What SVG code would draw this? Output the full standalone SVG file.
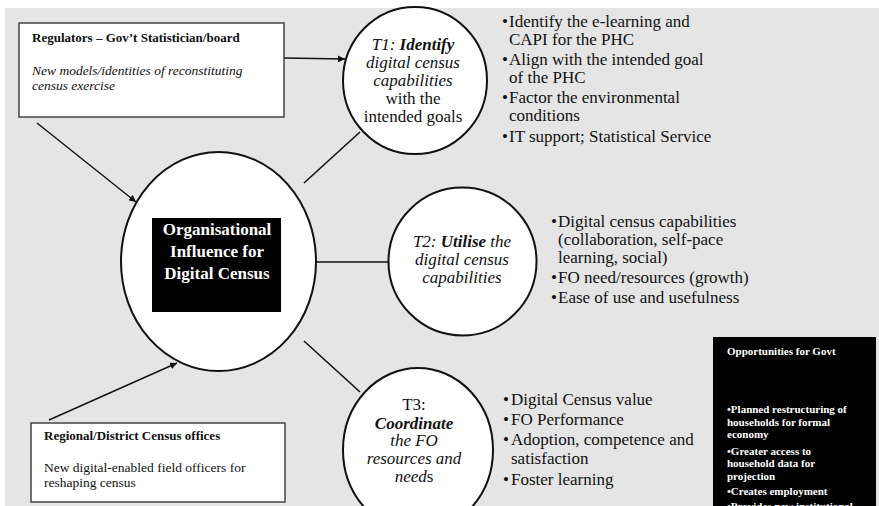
<svg xmlns="http://www.w3.org/2000/svg" width="879" height="506" viewBox="0 0 879 506" font-family="'Liberation Serif', 'Times New Roman', serif">
<style>
text{font-family:"Liberation Serif","Times New Roman",serif;fill:#111}
.t{font-size:17px}
.c{text-anchor:middle}
.i{font-style:italic}
.b{font-weight:bold}
.box{fill:#fff;stroke:#444;stroke-width:1.5}
.circ{fill:#fff;stroke:#111;stroke-width:2}
.ln{stroke:#111;stroke-width:1.6;fill:none}
.s13{font-size:13.5px}
.w{fill:#fff;font-size:11px;font-weight:bold}
</style>
<defs>
<marker id="ah" viewBox="0 0 10 10" refX="10" refY="5" markerWidth="7" markerHeight="7" orient="auto" markerUnits="userSpaceOnUse">
<path d="M0,0 L10,5 L0,10 z" fill="#111"/>
</marker>
</defs>
<rect x="0" y="0" width="879" height="506" fill="#fff"/>
<rect x="5" y="8" width="874" height="498" fill="#e5e5e5"/>

<g id="connectors">
<line class="ln" x1="284" y1="58" x2="345" y2="59" marker-end="url(#ah)" style="stroke-width:1.4"/>
<line class="ln" x1="37" y1="123" x2="136" y2="202" marker-end="url(#ah)" style="stroke-width:1.4"/>
<line class="ln" x1="49" y1="420" x2="177" y2="363" marker-end="url(#ah)" style="stroke-width:1.4"/>
<line class="ln" x1="304" y1="183" x2="360" y2="132"/>
<line class="ln" x1="316" y1="262" x2="389" y2="262"/>
<line class="ln" x1="304" y1="341" x2="360" y2="392"/>
</g>

<g id="regulators">
<rect class="box" x="19" y="23" width="265" height="94"/>
<text class="b" x="32" y="42" font-size="13">Regulators – Gov’t Statistician/board</text>
<text class="i s13" x="32" y="75">New models/identities of reconstituting</text>
<text class="i s13" x="32" y="90">census exercise</text>
</g>

<g id="regional">
<rect class="box" x="31" y="423" width="254" height="79"/>
<text class="b" x="44" y="440" font-size="13">Regional/District Census offices</text>
<text class="s13" x="44" y="472">New digital-enabled field officers for</text>
<text class="s13" x="44" y="487">reshaping census</text>
</g>

<g id="main">
<ellipse class="circ" cx="218.5" cy="261.5" rx="97.5" ry="109.5"/>
<rect x="152" y="218" width="129" height="94" fill="#000"/>
<text class="b c" x="217" y="235" font-size="17" style="fill:#fff">Organisational</text>
<text class="b c" x="217" y="257" font-size="17" style="fill:#fff">Influence for</text>
<text class="b c" x="217" y="279" font-size="17" style="fill:#fff">Digital Census</text>
</g>

<g id="t1">
<ellipse class="circ" cx="415" cy="80.5" rx="72" ry="73.5"/>
<text class="t c i" x="413" y="50">T1: <tspan class="b">Identify</tspan></text>
<text class="t c i" x="413" y="68">digital census</text>
<text class="t c i" x="413" y="86">capabilities</text>
<text class="t c" x="413" y="104">with the</text>
<text class="t c" x="413" y="122">intended goals</text>
</g>

<g id="t1-list">
<text class="t" x="502" y="27">•</text><text class="t" x="509" y="27">Identify the e-learning and</text>
<text class="t" x="509" y="45">CAPI for the PHC</text>
<text class="t" x="502" y="65">•</text><text class="t" x="509" y="65">Align with the intended goal</text>
<text class="t" x="509" y="83">of the PHC</text>
<text class="t" x="502" y="103">•</text><text class="t" x="509" y="103">Factor the environmental</text>
<text class="t" x="509" y="121">conditions</text>
<text class="t" x="502" y="142">•</text><text class="t" x="509" y="142">IT support; Statistical Service</text>
</g>

<g id="t2">
<ellipse class="circ" cx="462.5" cy="261.5" rx="74" ry="74"/>
<text class="t c i" x="462" y="247">T2: <tspan class="b">Utilise</tspan> the</text>
<text class="t c i" x="462" y="265">digital census</text>
<text class="t c i" x="462" y="283">capabilities</text>
</g>

<g id="t2-list">
<text class="t" x="551" y="227">•</text><text class="t" x="558" y="227">Digital census capabilities</text>
<text class="t" x="558" y="245">(collaboration, self-pace</text>
<text class="t" x="558" y="263">learning, social)</text>
<text class="t" x="551" y="283">•</text><text class="t" x="558" y="283">FO need/resources (growth)</text>
<text class="t" x="551" y="303">•</text><text class="t" x="558" y="303">Ease of use and usefulness</text>
</g>

<g id="t3">
<ellipse class="circ" cx="418" cy="450" rx="75" ry="82"/>
<text class="t c" x="414" y="410">T3:</text>
<text class="t c i b" x="414" y="429">Coordinate</text>
<text class="t c i" x="414" y="446">the FO</text>
<text class="t c i" x="414" y="464">resources and</text>
<text class="t c i" x="414" y="482">need<tspan font-style="normal">s</tspan></text>
</g>

<g id="t3-list">
<text class="t" x="503" y="405">•</text><text class="t" x="511" y="405">Digital Census value</text>
<text class="t" x="503" y="425">•</text><text class="t" x="511" y="425">FO Performance</text>
<text class="t" x="503" y="445">•</text><text class="t" x="511" y="445">Adoption, competence and</text>
<text class="t" x="511" y="464">satisfaction</text>
<text class="t" x="503" y="485">•</text><text class="t" x="511" y="485">Foster learning</text>
</g>

<g id="opportunities">
<rect x="713" y="337" width="163" height="175" fill="#000"/>
<text class="w" x="727" y="355">Opportunities for Govt</text>
<text class="w" x="727" y="413">•Planned restructuring of</text>
<text class="w" x="727" y="426">households for formal</text>
<text class="w" x="727" y="438">economy</text>
<text class="w" x="727" y="455">•Greater access to</text>
<text class="w" x="727" y="467">household data for</text>
<text class="w" x="727" y="480">projection</text>
<text class="w" x="727" y="495">•Creates employment</text>
<text class="w" x="727" y="510">•Provides new institutional</text>
</g>
</svg>
